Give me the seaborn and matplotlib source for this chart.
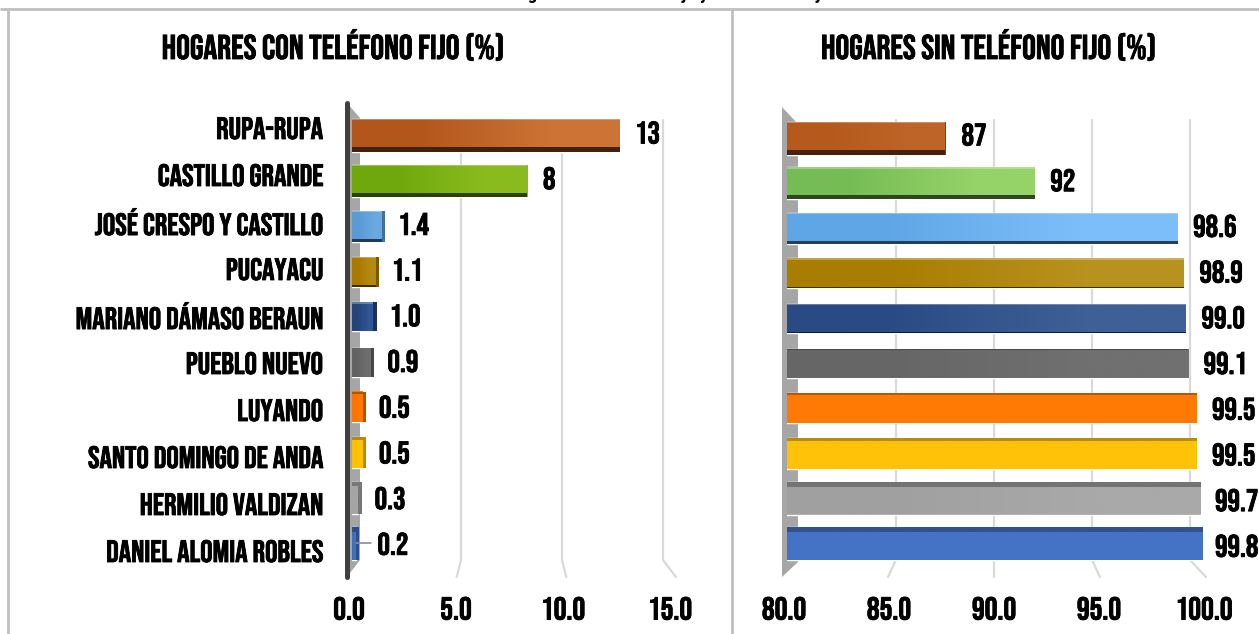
import matplotlib
matplotlib.use('Agg')
import numpy as np
import pandas as pd
import seaborn as sns
import matplotlib.pyplot as plt
import matplotlib.colors as mc
import matplotlib.patheffects as pe
from matplotlib.patches import Rectangle, Polygon

zonas = ['RUPA-RUPA', 'CASTILLO GRANDE', 'JOSÉ CRESPO Y CASTILLO', 'PUCAYACU',
         'MARIANO DÁMASO BERAUN', 'PUEBLO NUEVO', 'LUYANDO',
         'SANTO DOMINGO DE ANDA', 'HERMILIO VALDIZAN', 'DANIEL ALOMIA ROBLES']
con_fijo = [12.5, 8.2, 1.4, 1.1, 1.0, 0.9, 0.5, 0.5, 0.3, 0.2]
sin_fijo = [87.5, 91.8, 98.6, 98.9, 99.0, 99.1, 99.5, 99.5, 99.7, 99.8]
con_labels = ['13', '8', '1.4', '1.1', '1.0', '0.9', '0.5', '0.5', '0.3', '0.2']
sin_labels = ['87', '92', '98.6', '98.9', '99.0', '99.1', '99.5', '99.5', '99.7', '99.8']
con_ticks = [0, 5, 10, 15]
sin_ticks = [80, 85, 90, 95, 100]
con_c0 = ['#B3561B', '#6FA80C', '#5B9BD5', '#A87A00', '#264478', '#636363', '#FF7200', '#FFC000', '#A5A5A5', '#3F6DBF']
con_c1 = ['#CC7436', '#8ABB1E', '#6AA8E0', '#B5880F', '#2F5597', '#6E6E6E', '#FF7A05', '#FFC209', '#A5A5A5', '#4472C4']
sin_c0 = ['#B5591C', '#76BC55', '#5FA6E6', '#A87D00', '#2A4A84', '#666666', '#FF7A05', '#FFC209', '#A0A0A0', '#4472C4']
sin_c1 = ['#BC6527', '#95D268', '#7CBEFA', '#B8921E', '#3F6096', '#707070', '#FF7A05', '#FFC209', '#A9A9A9', '#4472C4']
titulo_con = 'HOGARES CON TELÉFONO FIJO (%)'
titulo_sin = 'HOGARES SIN TELÉFONO FIJO (%)'
titulo_sup = 'Hogares con teléfono fijo y sin teléfono fijo'

W, H = 1259, 634
FONT = ['Bebas Neue', 'DejaVu Sans']
sns.set_theme(style='white')
plt.rcParams['font.family'] = FONT
bold = [pe.withStroke(linewidth=0.6, foreground='black')]

fig = plt.figure(figsize=(W / 100, H / 100), dpi=100, facecolor='white')

def axpx(x0, x1, y0, y1, **kw):
    return fig.add_axes([x0 / W, 1 - y1 / H, (x1 - x0) / W, (y1 - y0) / H], **kw)

bg = axpx(0, W, 0, H)
bg.set_xlim(0, W)
bg.set_ylim(H, 0)
bg.axis('off')
GRID = '#D9D9D9'
FRAME = '#BFBFBF'
bg.plot([0, W], [9, 9], color=FRAME, lw=2, solid_capstyle='butt')
bg.plot([8, 8], [9, H], color=FRAME, lw=2, solid_capstyle='butt')
bg.plot([732, 732], [9, H], color=FRAME, lw=2, solid_capstyle='butt')
bg.text(333, 59, titulo_con, fontsize=24.8, ha='center', va='baseline', color='black', path_effects=bold)
bg.text(988.5, 59, titulo_sin, fontsize=24.8, ha='center', va='baseline', color='black', path_effects=bold)
fig.text(668 / W, 1 + 1 / H, titulo_sup, fontsize=13.4, ha='center', va='baseline',
         family=['Roboto Condensed', 'DejaVu Sans'], weight='bold', color='black')

def panel(vals, labels, c0, c1, ticks, v0, x0, x1, sx, top, bottom, back0, backs, front0, fronts,
          wall, vanish, cats, label_max, lab_y0):
    bg.add_patch(Polygon(wall, closed=True, color='#A6A6A6', lw=0, zorder=1))
    for t in ticks[1:]:
        xb = back0 + (t - v0) * backs
        xf = front0 + (t - v0) * fronts
        bg.plot([xb, xb, xf], [120, 560, 577], color=GRID, lw=1.6, zorder=0.5)
    ax = axpx(x0, x1, top, bottom)
    ax.patch.set_alpha(0)
    df = pd.DataFrame({'zona': zonas, 'valor': vals})
    sns.barplot(data=df, y='zona', x='valor', hue='zona', palette=c0, dodge=False,
                legend=False, width=0.7, ax=ax, saturation=1, order=zonas, hue_order=zonas)
    xlim = (v0, v0 + (x1 - x0) / sx)
    row = (bottom - top) / len(vals)
    bars = sorted([p for p in ax.patches if p.get_width() > 0], key=lambda p: p.get_y())
    for i, p in enumerate(bars):
        cy = p.get_y() + p.get_height() / 2
        hpx = 28.5 + abs(i - 4.5)
        h = hpx / row
        y0, y1 = cy - h / 2, cy + h / 2
        p.set_y(y0); p.set_height(h)
        v = vals[i]
        ax.imshow(np.array([[mc.to_rgb(c0[i]), mc.to_rgb(c1[i])]]), extent=(v0, v, y1, y0),
                  aspect='auto', interpolation='bilinear', zorder=3)
        shade = (4.5 - i) * 1.15
        dark = np.array(mc.to_rgb(c0[i])) * (0.38 if shade > 0 else 0.72)
        sh = abs(shade) / row
        if shade > 0:
            ax.add_patch(Rectangle((v0, y1 - sh), v - v0, sh, color=dark, lw=0, zorder=4))
            ax.add_patch(Rectangle((v0, y0), v - v0, 1.2 / row, color='white', alpha=0.28, lw=0, zorder=4))
        else:
            ax.add_patch(Rectangle((v0, y0), v - v0, sh, color=dark, lw=0, zorder=4))
        xend = x0 + (v - v0) * sx
        side = float(np.clip((vanish - xend) * 0.03, 0, 3.2))
        if side > 0.4:
            ax.add_patch(Rectangle((v, y0), side / sx, h, color=np.array(mc.to_rgb(c0[i])) * 0.72,
                                   lw=0, zorder=4, clip_on=False))
        pad = side + (13 if xend < 400 else 15.5)
        if i == 9 and v < 5:
            pad = side + 18
            ax.plot([v, v + 15 / sx], [cy, cy], color='#8C8C8C', lw=1.2, zorder=5)
        lx = min(xend + pad, label_max)
        ly = lab_y0 + i * 45.7
        ax.annotate(labels[i], xy=(lx, 1 - ly / H), xycoords=('figure pixels', 'figure fraction'),
                    fontsize=22.5, ha='left', va='center', color='black', path_effects=bold, zorder=6)
    ax.set_xlim(*xlim)
    ax.set_ylim(len(vals) - 0.5, -0.5)
    ax.set_xticks(ticks)
    ax.set_xticklabels([f'{t:.1f}' for t in ticks], fontsize=23, color='black', path_effects=bold)
    ax.tick_params(axis='x', length=0, pad=(598 - bottom) * 0.72 - 1)
    offset = matplotlib.transforms.ScaledTranslation(-3 / 100, 0, fig.dpi_scale_trans)
    for lab in ax.get_xticklabels():
        lab.set_transform(lab.get_transform() + offset)
    if cats:
        # the category labels follow the front of the 3-D box, so they fan out a little from the bars
        ax.set_yticks([(128 + 47 * i - top) / row - 0.5 for i in range(len(zonas))])
        ax.set_yticklabels(zonas, fontsize=22.3, color='black', path_effects=bold)
        ax.tick_params(axis='y', length=0, pad=(x0 - 323) * 0.72)
    else:
        ax.set_yticks([])
    ax.set_xlabel('')
    ax.set_ylabel('')
    for s in ax.spines.values():
        s.set_visible(False)
    return ax

panel(con_fijo, con_labels, con_c0, con_c1, con_ticks, 0, 352, 700, 21.4, 113, 566,
      360, 20.2, 347, 21.93,
      [(347, 103), (360, 118), (360, 560), (347, 577)], 510, True, 1e9, 132.5)
bg.plot([347, 347], [103, 577], color='#404040', lw=3.6, solid_capstyle='round', zorder=2)
panel(sin_fijo, sin_labels, sin_c0, sin_c1, sin_ticks, 80, 787, W, 21.0, 116, 566,
      798, 19.6, 782, 21.2,
      [(782, 107), (798, 124), (798, 562), (782, 577)], 995, False, 1215, 134.5)

fig.savefig('out.png', dpi=100)
